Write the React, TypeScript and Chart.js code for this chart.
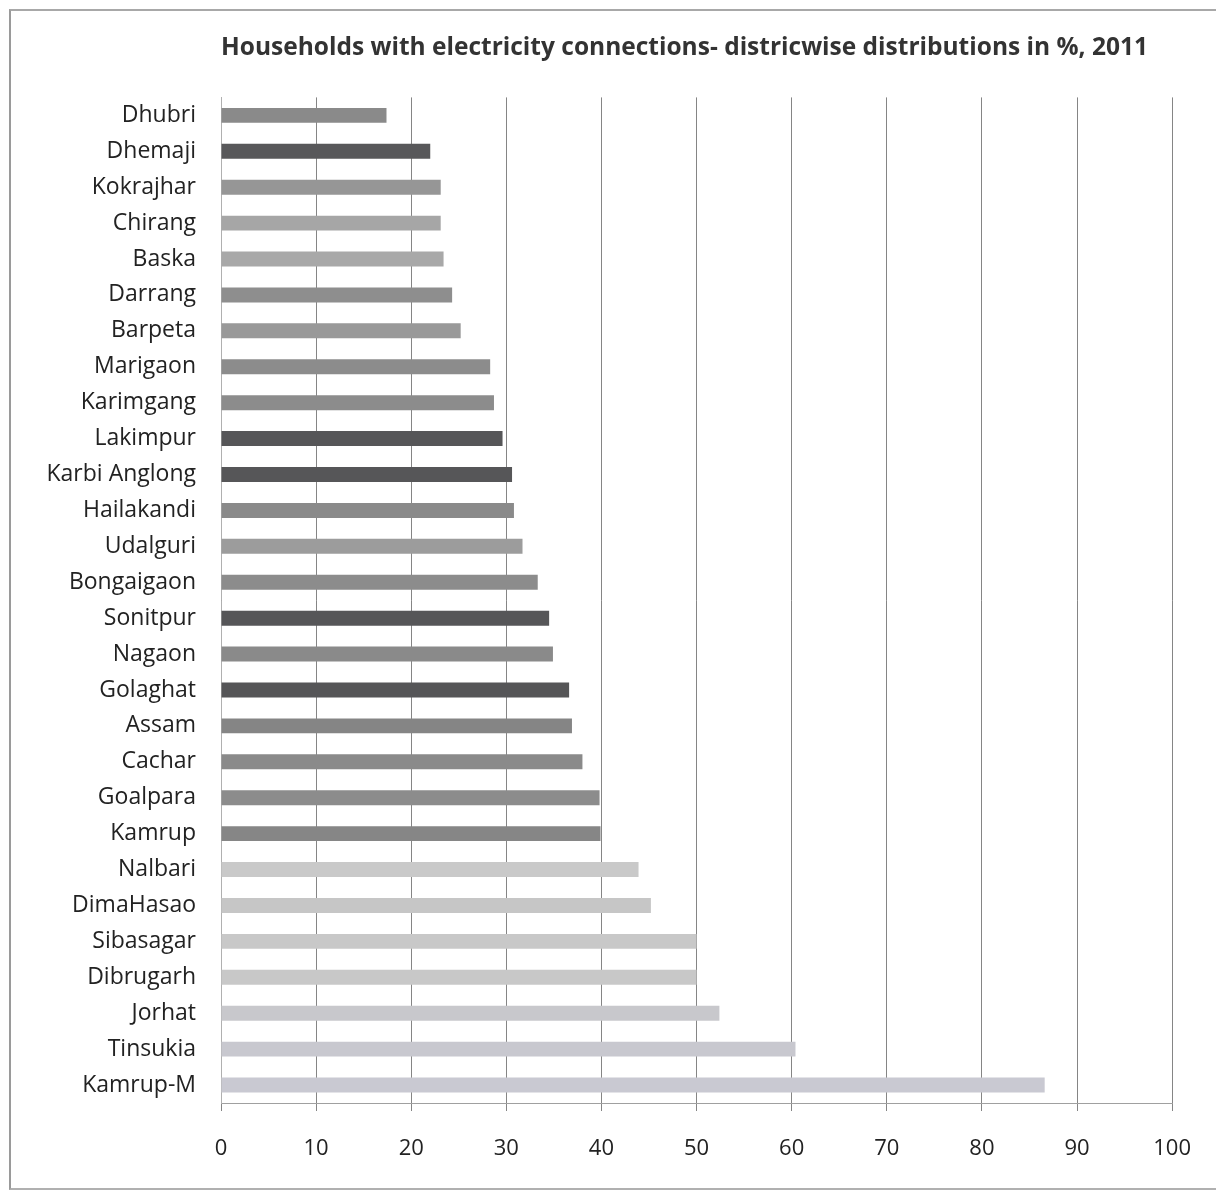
import React, { useEffect, useRef } from "react";
import { Chart, registerables } from "chart.js";

Chart.register(...registerables);

const TITLE = "Households with electricity connections- districwise distributions in %, 2011";

const districts = [
  "Dhubri", "Dhemaji", "Kokrajhar", "Chirang", "Baska", "Darrang", "Barpeta",
  "Marigaon", "Karimgang", "Lakimpur", "Karbi Anglong", "Hailakandi", "Udalguri",
  "Bongaigaon", "Sonitpur", "Nagaon", "Golaghat", "Assam", "Cachar", "Goalpara",
  "Kamrup", "Nalbari", "DimaHasao", "Sibasagar", "Dibrugarh", "Jorhat", "Tinsukia",
  "Kamrup-M",
];

const percentWithElectricity = [
  17.4, 22.0, 23.1, 23.1, 23.4, 24.3, 25.2,
  28.3, 28.7, 29.6, 30.6, 30.8, 31.7,
  33.3, 34.5, 34.9, 36.6, 36.9, 38.0, 39.8,
  39.9, 43.9, 45.2, 50.0, 50.0, 52.4, 60.4,
  86.6,
];

const barShades = [
  "#8a8a8a", "#58585a", "#969696", "#a6a6a6", "#a8a8a8", "#8e8e8e", "#999999",
  "#8c8c8c", "#8c8c8c", "#565658", "#565658", "#8a8a8a", "#9c9c9c",
  "#8c8c8c", "#565658", "#8a8a8a", "#555557", "#858585", "#8a8a8a", "#8c8c8c",
  "#868686", "#c9c9c9", "#c6c6c6", "#c8c8c8", "#c8c8c8", "#c8c8cc", "#c8c8cf",
  "#c9c9d2",
];

const xTicks = [0, 10, 20, 30, 40, 50, 60, 70, 80, 90, 100];

export default function App() {
  const ref = useRef<HTMLCanvasElement | null>(null);

  useEffect(() => {
    if (!ref.current) return;
    const chart = new Chart(ref.current, {
      type: "bar",
      data: {
        labels: districts,
        datasets: [
          {
            data: percentWithElectricity,
            backgroundColor: barShades,
            borderWidth: 0,
            barPercentage: 0.8,
            categoryPercentage: 0.52,
          },
        ],
      },
      options: {
        indexAxis: "y",
        animation: false,
        responsive: false,
        maintainAspectRatio: false,
        layout: { padding: { left: 0, right: 43, top: 0, bottom: 27 } },
        plugins: {
          legend: { display: false },
          tooltip: { enabled: false },
          title: {
            display: true,
            text: TITLE,
            fullSize: false,
            align: "start",
            color: "#333333",
            font: { family: "'Open Sans', sans-serif", size: 24.5, weight: "bold", lineHeight: 1.2 },
            padding: { top: 33, bottom: 35 },
          },
        },
        scales: {
          x: {
            min: 0,
            max: 100,
            afterBuildTicks: (scale: any) => {
              scale.ticks = xTicks.map((v) => ({ value: v }));
            },
            afterFit: (scale: any) => {
              scale.height = 60;
            },
            grid: {
              display: true,
              color: "#858585",
              lineWidth: 1,
              drawTicks: true,
              tickLength: 8,
            },
            border: { display: true, color: "#a0a0a0", width: 1 },
            ticks: {
              color: "#222222",
              padding: 25,
              font: { family: "'Open Sans', sans-serif", size: 22 },
              callback: (v: any) => String(v),
            },
          },
          y: {
            afterFit: (scale: any) => {
              scale.width = 221;
            },
            grid: { display: false, drawTicks: false },
            border: { display: true, color: "#b0b0b0", width: 1 },
            ticks: {
              color: "#222222",
              padding: 25,
              autoSkip: false,
              font: { family: "'Open Sans', sans-serif", size: 23 },
            },
          },
        },
      },
    });
    return () => chart.destroy();
  }, []);

  return (
    <div
      style={{
        position: "absolute",
        left: 0,
        top: 0,
        width: 1216,
        height: 1190,
        background: "#ffffff",
      }}
    >
      <div
        style={{
          position: "absolute",
          left: 9,
          top: 9,
          width: 1207,
          height: 1177,
          borderLeft: "2px solid #9a9a9a",
          borderTop: "2px solid #a8a8a8",
          borderBottom: "2px solid #b0b0b0",
        }}
      />
      <canvas
        ref={ref}
        width={1216}
        height={1190}
        style={{ position: "absolute", left: 0, top: 0, width: 1216, height: 1190 }}
      />
    </div>
  );
}
